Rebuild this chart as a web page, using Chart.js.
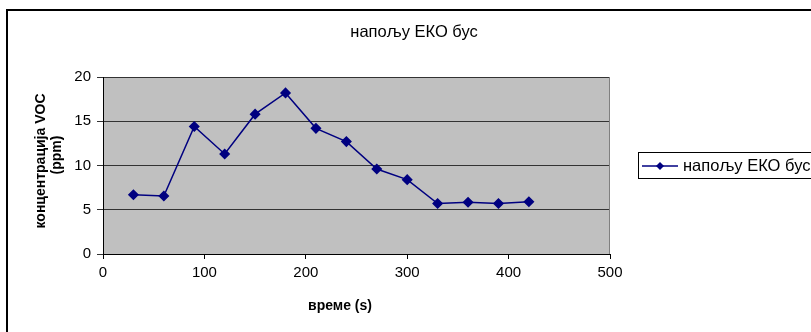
<!DOCTYPE html>
<html>
<head>
<meta charset="utf-8">
<script src="https://cdn.jsdelivr.net/npm/chart.js@4"></script>
<style>
  body { margin: 0; background: #fff; }
  #myChart { display: block; }
</style>
</head>
<body>
<canvas id="myChart" width="811" height="332"></canvas>
<script>
// data
const seriesName = 'напољу ЕКО бус';
const timeValues = [30, 60, 90, 120, 150, 180, 210, 240, 270, 300, 330, 360, 390, 420];
const vocValues = [6.7, 6.55, 14.4, 11.3, 15.8, 18.2, 14.2, 12.7, 9.6, 8.4, 5.7, 5.85, 5.7, 5.9];
const xTitle = 'време (s)';
const yTitleLines = ['концентрација VOC', '(ppm)'];

const FONT = '"Liberation Sans", Arial, sans-serif';

/* fondo, bordes, títulos y leyenda ----------------------------------------- */
const frame = {
    id: 'frame',
    beforeDraw(chart) {
        const ctx = chart.ctx;
        const a = chart.chartArea;
        ctx.save();
        ctx.fillStyle = '#fff';
        ctx.fillRect(0, 0, chart.width, chart.height);
        ctx.fillStyle = '#c0c0c0';
        ctx.fillRect(a.left, a.top, a.right - a.left, a.bottom - a.top);
        ctx.restore();
    },
    afterDraw(chart) {
        const ctx = chart.ctx;
        const a = chart.chartArea;
        ctx.save();
        // outer border (only top and left are visible)
        ctx.strokeStyle = '#000';
        ctx.lineWidth = 2;
        ctx.beginPath();
        ctx.moveTo(7, chart.height);
        ctx.lineTo(7, 10);
        ctx.lineTo(chart.width, 10);
        ctx.stroke();
        // right edge of the plot
        ctx.strokeStyle = '#808080';
        ctx.lineWidth = 1;
        ctx.beginPath();
        ctx.moveTo(a.right - 0.5, a.top);
        ctx.lineTo(a.right - 0.5, a.bottom);
        ctx.stroke();

        ctx.fillStyle = '#000';
        ctx.textAlign = 'center';
        ctx.textBaseline = 'middle';
        ctx.font = '16.5px ' + FONT;
        ctx.fillText(seriesName, 414, 32);

        ctx.font = 'bold 14px ' + FONT;
        ctx.fillText(xTitle, 340, 306);

        ctx.save();
        ctx.translate(41, 161);
        ctx.rotate(-Math.PI / 2);
        ctx.fillText(yTitleLines[0], 0, 0);
        ctx.restore();
        ctx.save();
        ctx.translate(57, 155);
        ctx.rotate(-Math.PI / 2);
        ctx.fillText(yTitleLines[1], 0, 0);
        ctx.restore();

        // legend
        const ds = chart.data.datasets[0];
        ctx.strokeStyle = '#000';
        ctx.lineWidth = 1;
        ctx.strokeRect(638.5, 152.5, chart.width, 26);
        ctx.strokeStyle = ds.borderColor;
        ctx.lineWidth = 1.5;
        ctx.beginPath();
        ctx.moveTo(642, 166);
        ctx.lineTo(678, 166);
        ctx.stroke();
        ctx.fillStyle = ds.pointBackgroundColor;
        ctx.beginPath();
        ctx.moveTo(660, 162);
        ctx.lineTo(664, 166);
        ctx.lineTo(660, 170);
        ctx.lineTo(656, 166);
        ctx.closePath();
        ctx.fill();
        ctx.fillStyle = '#000';
        ctx.textAlign = 'left';
        ctx.font = '16.5px ' + FONT;
        ctx.fillText(seriesName, 683, 166);
        ctx.restore();
    }
};

const data = {
    datasets: [{
        label: seriesName,
        data: timeValues.map((t, i) => ({ x: t, y: vocValues[i] })),
        borderColor: '#000080',
        backgroundColor: '#000080',
        pointBackgroundColor: '#000080',
        pointBorderColor: '#000080',
        pointStyle: 'rectRot',
        pointRadius: 4.5,
        borderWidth: 1.5,
        tension: 0
    }]
};

const config = {
    type: 'line',
    data: data,
    options: {
        responsive: false,
        animation: false,
        devicePixelRatio: 1,
        layout: { padding: { top: 77, right: 201, left: 0, bottom: 0 } },
        plugins: {
            legend: { display: false },
            title: { display: false },
            tooltip: { enabled: false }
        },
        scales: {
            x: {
                type: 'linear',
                min: 0,
                max: 500,
                afterFit: (s) => { s.height = 78; },
                ticks: { stepSize: 100, color: '#000', font: { family: FONT, size: 15 }, padding: 5, maxRotation: 0 },
                grid: { drawOnChartArea: false, color: '#000', tickLength: 5 },
                border: { color: '#000', width: 1 }
            },
            y: {
                min: 0,
                max: 20,
                afterFit: (s) => { s.width = 103; },
                ticks: { stepSize: 5, color: '#000', font: { family: FONT, size: 15 }, padding: 6 },
                grid: { color: '#333', lineWidth: 1, tickLength: 6 },
                border: { color: '#000', width: 1 }
            }
        }
    },
    plugins: [frame]
};

let chartStatus = Chart.getChart('myChart');
if (chartStatus != undefined) {
    chartStatus.destroy();
}
new Chart(document.getElementById('myChart'), config);
</script>
</body>
</html>
